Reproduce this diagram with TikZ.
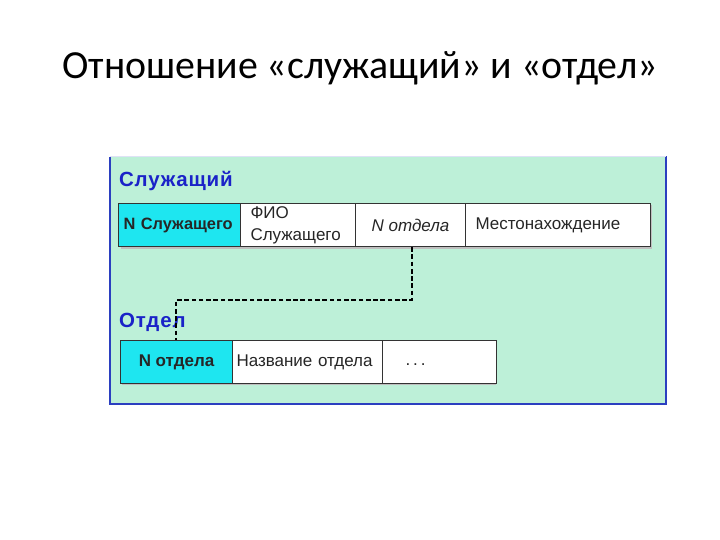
\documentclass[tikz,border=0pt]{standalone}
\usepackage{fontspec}
\usetikzlibrary{calc}
\setmainfont{Liberation Sans}
\newfontfamily\titlefont{Carlito}
\newfontfamily\labelfont[LetterSpace=4]{Liberation Sans}
\definecolor{panelgreen}{HTML}{BDF0D8}
\definecolor{panelblue}{HTML}{2B3FC0}
\definecolor{labelblue}{HTML}{1A22C8}
\definecolor{keycyan}{HTML}{1EE6F0}
\begin{document}
\begin{tikzpicture}[x=0.03cm,y=-0.03cm,
  cell/.style={draw=black!80, line width=0.9pt, minimum height=43*0.03cm, inner ysep=0pt, anchor=north west, text=black!85, font=\fontsize{14.5}{19.5}\selectfont},
  keycell/.style={cell, fill=keycyan},
  plaincell/.style={cell, fill=white},
  shadowbox/.style={fill=black!25},
  tablabel/.style={anchor=west, text=labelblue, font=\labelfont\fontsize{17.5}{20}\selectfont\bfseries},
  link/.style={draw=black, line width=0.9pt, dash pattern=on 4pt off 2.2pt}
]
\useasboundingbox (0,0) rectangle (720,540);
\fill[white] (0,0) rectangle (720,540);
\node (title) at (360,68) {\titlefont\fontsize{34}{38}\selectfont Отношение «служащий» и «отдел»};
% panel
\fill[panelgreen] (110,156) rectangle (666,404);
\draw[panelblue, line width=1.2pt] (110,157) -- (110,404) -- (666,404) -- (666,156);
\draw[white!85!panelblue, line width=0.8pt] (110,156.5) -- (666,156.5);
% labels
\node[tablabel] (lblA) at (115,181) {Служащий};
\node[tablabel] (lblB) at (115,322) {Отдел};
% shadows
\fill[shadowbox] (121,205) rectangle (652,249);
\fill[shadowbox] (122,342) rectangle (496,385);
% row 1
\node[keycell, inner xsep=5*0.03cm, text width=112*0.03cm, align=left, font=\fontsize{14}{16}\selectfont\bfseries] (a1) at (118,203) {\raisebox{-1pt}{N Служащего}};
\node[plaincell, inner xsep=10*0.03cm, text width=95*0.03cm, align=left] (a2) at (240,203) {\raisebox{-2pt}{ФИО}\\\raisebox{-1pt}{Служащего}};
\node[plaincell, inner xsep=0pt, minimum width=110*0.03cm] (a3) at (355,203) {\raisebox{-1pt}{\itshape N отдела}};
\node[plaincell, inner xsep=10*0.03cm, text width=165*0.03cm, align=left] (a4) at (465,203) {\raisebox{-2pt}{Местонахождение}};
% row 2
\node[keycell, inner xsep=0pt, minimum width=112*0.03cm, font=\fontsize{14.5}{16}\selectfont\bfseries] (b1) at (120,340) {N отдела};
\node[plaincell, inner xsep=4*0.03cm, text width=142*0.03cm, align=left] (b2) at (232,340) {Название отдела};
\node[plaincell, inner xsep=23*0.03cm, text width=68*0.03cm, align=left] (b3) at (382,340) {\raisebox{-6pt}{.\hspace{2.5pt}.\hspace{2.5pt}.}};
% link
\draw[link] ($(a3.south west)+(57,0)$) coordinate (s) |- ($(b1.north west)+(56,-40)$) coordinate (m) -- ($(b1.north west)+(56,0)$);
\end{tikzpicture}
\end{document}
